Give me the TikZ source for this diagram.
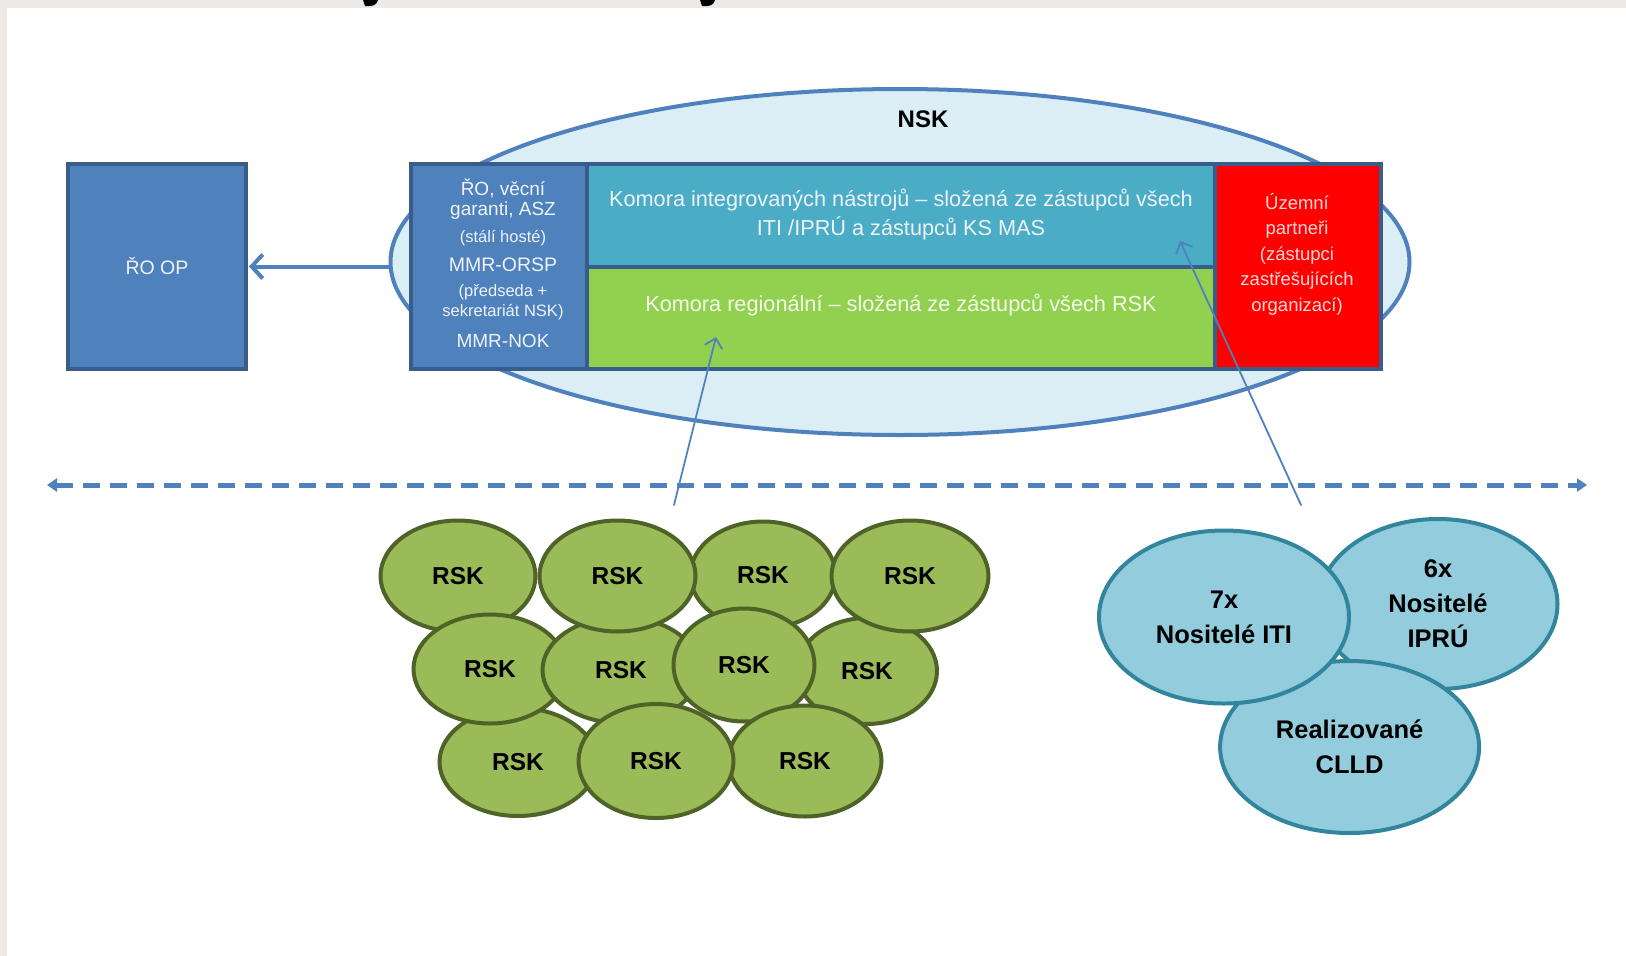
\documentclass[tikz,border=0pt]{standalone}
\usepackage{fontspec}
\setmainfont{Liberation Sans}
\usetikzlibrary{arrows.meta,shapes.geometric}
\definecolor{bggrey}{HTML}{EDE9E6}
\definecolor{nskfill}{HTML}{DCEEF5}
\definecolor{nskline}{HTML}{4F81BD}
\definecolor{boxblue}{HTML}{4F81BD}
\definecolor{boxline}{HTML}{385D8A}
\definecolor{cellteal}{HTML}{4BACC6}
\definecolor{cellgreen}{HTML}{92D050}
\definecolor{cellred}{HTML}{FF0000}
\definecolor{rskfill}{HTML}{9BBB59}
\definecolor{rskline}{HTML}{4F6228}
\definecolor{tealfill}{HTML}{93CDDD}
\definecolor{tealline}{HTML}{31859C}
\definecolor{lighttxt}{HTML}{EEF3FA}
\definecolor{pinktxt}{HTML}{FFD6D6}
\definecolor{greentxt}{HTML}{F4FAEA}
\tikzset{
  cellbox/.style={rectangle, draw=boxline, line width=4pt, inner sep=0pt, outer sep=0pt},
  rsk/.style={ellipse, draw=rskline, fill=rskfill, line width=4pt, inner sep=0pt,
    font=\fontsize{24.5}{28}\selectfont\bfseries, text=black},
  tealell/.style={ellipse, draw=tealline, fill=tealfill, line width=4pt, inner sep=0pt,
    align=center, font=\fontsize{25.5}{35}\selectfont\bfseries, text=black},
  celltxt/.style={inner sep=0pt, align=center, text=lighttxt},
  lefttxt/.style={inner sep=0pt, anchor=base, text=lighttxt},
  thinarrow/.style={draw=nskline, line width=1.8pt, line cap=round,
    -{Straight Barb[length=9pt,width=18pt,line width=1.8pt]}},
}
\begin{document}
\begin{tikzpicture}[x=1pt,y=-1pt]
\useasboundingbox (0,0) rectangle (1626,956);
\fill[white] (0,0) rectangle (1626,956);
\fill[bggrey] (0,0) rectangle (1626,8);
\fill[bggrey] (0,0) rectangle (7,956);
% title fragments
\fill[black] (363,0) -- (378,0) .. controls (377,5) and (372,7) .. (365,6) -- cycle;
\fill[black] (700,0) -- (715,0) .. controls (714,5) and (709,7) .. (702,6) -- cycle;

% NSK ellipse
\node[ellipse, draw=nskline, fill=nskfill, line width=4pt, inner sep=0pt,
  minimum width=1019pt, minimum height=346pt] (nsk) at (900,262) {};
\node[font=\fontsize{24}{28}\selectfont\bfseries, text=black, inner sep=0pt] (nsklabel) at (923,119) {NSK};

% main cells
\node[cellbox, fill=boxblue, minimum width=176pt, minimum height=205pt] (left) at (499,266.5) {};
\node[cellbox, fill=cellteal, minimum width=628pt, minimum height=103pt] (teal) at (901,215.5) {};
\node[cellbox, fill=cellgreen, minimum width=628pt, minimum height=102pt] (green) at (901,318) {};
\node[cellbox, fill=cellred, minimum width=166pt, minimum height=205pt] (red) at (1298,266.5) {};

% left cell text (baselines)
\node[lefttxt, font=\fontsize{19}{22}\selectfont] (l1) at (503,195) {ŘO, věcní};
\node[lefttxt, font=\fontsize{19}{22}\selectfont] (l2) at (503,215.5) {garanti, ASZ};
\node[lefttxt, font=\fontsize{16.5}{20}\selectfont] (l3) at (503,242) {(stálí hosté)};
\node[lefttxt, font=\fontsize{19.5}{22}\selectfont] (l4) at (503,271) {MMR-ORSP};
\node[lefttxt, font=\fontsize{16.5}{20}\selectfont] (l5) at (503,296) {(předseda +};
\node[lefttxt, font=\fontsize{16.5}{20}\selectfont] (l6) at (503,316) {sekretariát NSK)};
\node[lefttxt, font=\fontsize{19}{22}\selectfont] (l7) at (503,347) {MMR-NOK};

% teal / green text
\node[celltxt, font=\fontsize{21.7}{29}\selectfont] (tealtxt) at (901,214.5)
  {Komora integrovaných nástrojů – složená ze zástupců všech\\ITI /IPRÚ a zástupců KS MAS};
\node[celltxt, text=greentxt, font=\fontsize{21.7}{24}\selectfont] (greentxt) at (901,305)
  {Komora regionální – složená ze zástupců všech RSK};
% red text
\node[celltxt, text=pinktxt, font=\fontsize{18.5}{25.5}\selectfont] (redtxt) at (1297,254)
  {Územní\\partneři\\(zástupci\\zastřešujících\\organizací)};

% ŘO OP box
\node[cellbox, fill=boxblue, minimum width=178pt, minimum height=205pt,
  text=lighttxt, font=\fontsize{19.5}{22}\selectfont] (roop) at (157,266.5) {ŘO OP};
\draw[draw=nskline, line width=4pt, line cap=round,
  -{Straight Barb[length=11pt,width=24pt,line width=4pt]}]
  (roop.east -| nsk.west) -- ([xshift=3pt]roop.east);

% dashed divider
\coordinate (dl) at (47,485);
\coordinate (dr) at (1587,485);
\draw[draw=nskline, line width=5pt, dash pattern=on 17pt off 10pt,
  {Triangle[length=10pt,width=13pt]}-{Triangle[length=10pt,width=13pt]}] (dl) -- (dr);

% RSK ellipses
\node[rsk, minimum width=155pt, minimum height=111pt] (r1) at (458,576) {RSK};
\node[rsk, minimum width=145pt, minimum height=107pt] (r3) at (763,575) {RSK};
\node[rsk, minimum width=140pt, minimum height=106pt] (r8) at (867,671) {RSK};
\node[rsk, minimum width=157pt, minimum height=108pt] (r9) at (518,762) {RSK};
\node[rsk, minimum width=153pt, minimum height=109pt] (r5) at (490,669) {RSK};
\node[rsk, minimum width=157pt, minimum height=106pt] (r6) at (621,670) {RSK};
\node[rsk, minimum width=156pt, minimum height=111pt] (r2) at (617.5,576) {RSK};
\node[rsk, minimum width=141pt, minimum height=113pt] (r7) at (744,665) {RSK};
\node[rsk, minimum width=157pt, minimum height=111pt] (r4) at (910,576) {RSK};
\node[rsk, minimum width=153pt, minimum height=111pt] (r11) at (805,761) {RSK};
\node[rsk, minimum width=155pt, minimum height=114pt] (r10) at (656,761) {RSK};

% teal ellipses
\node[tealell, minimum width=239pt, minimum height=170pt] (ipru) at (1438,604) {6x\\Nositelé\\IPRÚ};
\node[tealell, minimum width=259pt, minimum height=172pt] (clld) at (1349.6,747) {Realizované\\CLLD};
\node[tealell, minimum width=250pt, minimum height=173pt] (iti) at (1224,617) {7x\\Nositelé ITI};

% thin arrows
\coordinate (a1s) at (674,505);
\coordinate (a1e) at (716,337);
\coordinate (a2s) at (1301,505);
\coordinate (a2e) at (1180,241);
\draw[thinarrow] (a1s) -- (a1e);
\draw[thinarrow] (a2s) -- (a2e);
\end{tikzpicture}
\end{document}
